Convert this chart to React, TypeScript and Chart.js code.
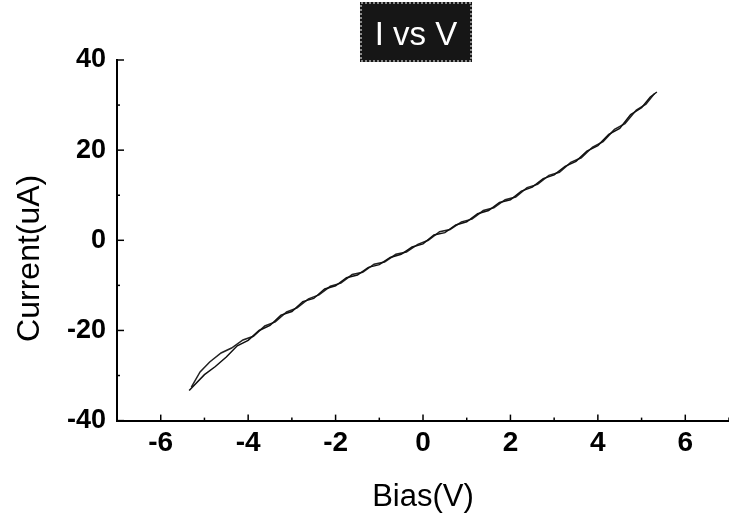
import { useEffect, useRef } from 'react';
import { Chart, registerables } from 'chart.js';

Chart.register(...registerables);

const CHART_TITLE = 'I vs V';
const X_TITLE = 'Bias(V)';
const Y_TITLE = 'Current(uA)';

const X_TICKS = [-7, -6, -5, -4, -3, -2, -1, 0, 1, 2, 3, 4, 5, 6, 7];
const X_LABELLED = [-6, -4, -2, 0, 2, 4, 6];
const Y_TICKS = [-40, -30, -20, -10, 0, 10, 20, 30, 40];
const Y_LABELLED = [-40, -20, 0, 20, 40];

const SWEEP_A_BIAS = [
  -5.35, -5.0, -4.75, -4.5, -4.25, -4.0, -3.75, -3.5, -3.25, -3.0, -2.75, -2.5, -2.25, -2.0, -1.75,
  -1.5, -1.25, -1.0, -0.75, -0.5, -0.25, 0, 0.25, 0.5, 0.75, 1.0, 1.25, 1.5, 1.75, 2.0, 2.25, 2.5,
  2.75, 3.0, 3.25, 3.5, 3.75, 4.0, 4.25, 4.5, 4.75, 5.0, 5.2, 5.35,
];
const SWEEP_A_CURRENT = [
  -33.3, -29.8, -28.0, -25.9, -23.4, -22.2, -20.0, -18.9, -16.6, -15.8, -13.6, -12.9, -10.8, -10.1, -8.3,
  -7.7, -6.0, -5.4, -3.8, -3.1, -1.5, -0.8, 1.2, 1.7, 3.4, 4.1, 5.9, 6.6, 8.4, 9.0, 10.9, 11.8,
  13.7, 14.5, 16.4, 17.5, 19.8, 21.0, 23.5, 24.8, 27.9, 29.4, 31.8, 32.9,
];

const SWEEP_B_BIAS = [
  -5.3, -5.1, -4.88, -4.62, -4.38, -4.12, -3.88, -3.62, -3.38, -3.12, -2.88, -2.62, -2.38, -2.12, -1.88,
  -1.62, -1.38, -1.12, -0.88, -0.62, -0.38, -0.12, 0.12, 0.38, 0.62, 0.88, 1.12, 1.38, 1.62, 1.88, 2.12,
  2.38, 2.62, 2.88, 3.12, 3.38, 3.62, 3.88, 4.12, 4.38, 4.62, 4.88, 5.1, 5.3,
];
const SWEEP_B_CURRENT = [
  -32.6, -29.2, -27.0, -25.0, -23.9, -22.1, -21.3, -19.0, -18.1, -15.9, -15.0, -13.0, -12.1, -10.2, -9.5,
  -7.6, -7.1, -5.3, -4.8, -3.1, -2.6, -0.9, 0.0, 1.9, 2.4, 4.1, 4.7, 6.6, 7.2, 9.0, 9.6,
  11.7, 12.4, 14.4, 15.1, 17.3, 18.3, 20.7, 21.9, 24.6, 25.9, 28.9, 30.2, 32.6,
];

const toPoints = (xs: number[], ys: number[]) => xs.map((x, i) => ({ x, y: ys[i] }));

const tickMarksPlugin = {
  id: 'tickMarks',
  afterDraw(chart: any) {
    const { ctx, chartArea, scales } = chart;
    ctx.save();
    ctx.strokeStyle = '#000';
    ctx.lineWidth = 1.5;
    for (const t of scales.x.ticks) {
      const px = scales.x.getPixelForValue(t.value);
      const len = X_LABELLED.includes(t.value) ? 6 : 3;
      ctx.beginPath();
      ctx.moveTo(px, chartArea.bottom);
      ctx.lineTo(px, chartArea.bottom - len);
      ctx.stroke();
    }
    for (const t of scales.y.ticks) {
      const py = scales.y.getPixelForValue(t.value);
      const len = Y_LABELLED.includes(t.value) ? 7 : 3;
      ctx.beginPath();
      ctx.moveTo(chartArea.left, py);
      ctx.lineTo(chartArea.left + len, py);
      ctx.stroke();
    }
    ctx.restore();
  },
};

const textPlugin = {
  id: 'textDecor',
  afterDraw(chart: any) {
    const { ctx, chartArea } = chart;
    // y-axis title
    ctx.save();
    ctx.fillStyle = '#000';
    ctx.font = 'normal 32px "Liberation Sans", Arial, sans-serif';
    ctx.textAlign = 'center';
    ctx.textBaseline = 'middle';
    ctx.translate(30, (chartArea.top + chartArea.bottom) / 2 + 18);
    ctx.rotate(-Math.PI / 2);
    ctx.fillText(Y_TITLE, 0, 0);
    ctx.restore();

    // chart title box
    const cx = (chartArea.left + chartArea.right) / 2 - 7;
    const w = 112;
    const h = 60;
    const top = 2;
    ctx.save();
    ctx.fillStyle = '#161616';
    ctx.fillRect(cx - w / 2, top, w, h);
    ctx.strokeStyle = '#8a8a8a';
    ctx.lineWidth = 2;
    ctx.setLineDash([2, 2]);
    ctx.strokeRect(cx - w / 2 + 1, top + 1, w - 2, h - 2);
    ctx.setLineDash([]);
    ctx.fillStyle = '#fff';
    ctx.font = 'normal 33px "Liberation Sans", Arial, sans-serif';
    ctx.textAlign = 'center';
    ctx.textBaseline = 'alphabetic';
    ctx.fillText(CHART_TITLE, cx, 45);
    ctx.restore();
  },
};

export default function App() {
  const canvasRef = useRef<HTMLCanvasElement | null>(null);

  useEffect(() => {
    document.body.style.margin = '0';
    const canvas = canvasRef.current;
    if (!canvas) return;
    Chart.defaults.color = '#000';
    const chart = new Chart(canvas, {
      type: 'line',
      data: {
        datasets: [
          {
            label: 'Sweep A',
            data: toPoints(SWEEP_A_BIAS, SWEEP_A_CURRENT),
            borderColor: '#111',
            borderWidth: 1.5,
            pointRadius: 0,
            tension: 0,
            fill: false,
          },
          {
            label: 'Sweep B',
            data: toPoints(SWEEP_B_BIAS, SWEEP_B_CURRENT),
            borderColor: '#222',
            borderWidth: 1.5,
            pointRadius: 0,
            tension: 0,
            fill: false,
          },
        ],
      },
      options: {
        animation: false,
        responsive: false,
        layout: { padding: { top: 60, left: 56, right: 0, bottom: 7 } },
        plugins: {
          legend: { display: false },
          tooltip: { enabled: false },
          title: { display: false },
        },
        scales: {
          x: {
            type: 'linear',
            min: -7,
            max: 7,
            grid: { display: false, drawTicks: false, tickLength: 0 },
            border: { display: true, color: '#000', width: 2 },
            afterBuildTicks: (scale: any) => {
              scale.ticks = X_TICKS.map((v) => ({ value: v }));
            },
            ticks: {
              autoSkip: false,
              maxRotation: 0,
              padding: 0,
              color: '#000',
              font: { family: '"Liberation Sans", Arial, sans-serif', size: 28, weight: 'bold', lineHeight: 1.65 },
              callback: (v: any) => (X_LABELLED.includes(Number(v)) ? String(v) : ''),
            },
            title: {
              display: true,
              text: X_TITLE,
              color: '#000',
              font: { family: '"Liberation Sans", Arial, sans-serif', size: 31, weight: 'normal' },
              padding: { top: 12, bottom: 0 },
            },
          },
          y: {
            type: 'linear',
            min: -40,
            max: 40,
            grid: { display: false, drawTicks: false, tickLength: 0 },
            border: { display: true, color: '#000', width: 2 },
            afterBuildTicks: (scale: any) => {
              scale.ticks = Y_TICKS.map((v) => ({ value: v }));
            },
            ticks: {
              autoSkip: false,
              padding: 11,
              color: '#000',
              font: { family: '"Liberation Sans", Arial, sans-serif', size: 27, weight: 'bold' },
              callback: (v: any) => (Y_LABELLED.includes(Number(v)) ? String(v) : ''),
            },
            title: { display: false },
          },
        },
      },
      plugins: [tickMarksPlugin, textPlugin],
    });
    return () => chart.destroy();
  }, []);

  return (
    <div style={{ width: 729, height: 523, background: '#fff' }}>
      <canvas ref={canvasRef} width={729} height={523} style={{ display: 'block' }} />
    </div>
  );
}
